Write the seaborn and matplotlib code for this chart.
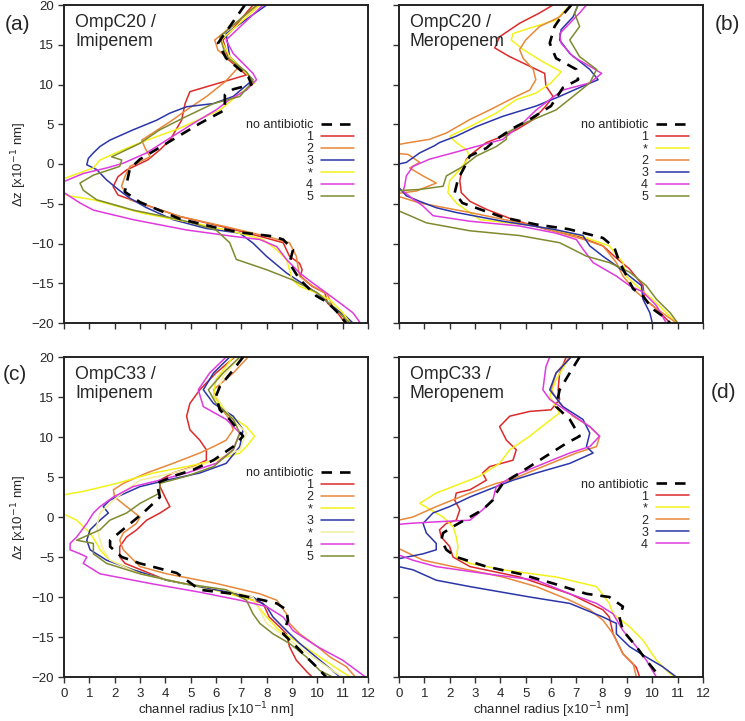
import numpy as np
import pandas as pd
import matplotlib
matplotlib.use("Agg")
import matplotlib.pyplot as plt
import seaborn as sns

# ---- profiles: (channel radius, dz), both in units of 0.1 nm ----
# panel (a) OmpC20 / Imipenem
A_NONE = [(7.14, 20), (6.08, 15.2), (6.4, 13.3), (7.27, 11), (7.4, 10), (6.68, 9.4), (6.35, 8.7), (6.35, 6.8),
          (5.36, 5.1), (3.0, 0.6), (2.6, -0.6), (2.4, -3.5), (3.0, -4.8), (4.57, -6.9), (6.0, -8.0), (6.94, -8.6),
          (8.25, -9.1), (8.65, -9.5), (9.04, -10.8), (8.9, -12.5), (9.3, -14.5), (9.96, -16.6), (10.4, -17.4),
          (10.75, -18.5), (11.14, -20)]
A_1 = [(7.46, 20), (6.28, 15.6), (6.5, 13.1), (7.2, 11.2), (4.97, 9.1), (4.78, 7.6), (4.64, 5.5), (4.18, 3.0),
       (3.79, 1.8), (3.3, 0.5), (2.47, -0.75), (2.13, -1.6), (1.94, -2.85), (2.13, -3.9), (3.0, -4.9), (4.57, -6.6),
       (6.54, -8.1), (7.73, -9.1), (8.65, -9.9), (8.9, -11.6), (9.3, -12.5), (9.4, -13.3), (9.33, -14.1),
       (9.8, -15.4), (10.3, -16.2), (10.4, -17.5), (10.75, -18.5), (11.0, -19.6), (11.1, -20)]
A_2 = [(7.66, 20), (5.95, 15.6), (6.08, 14.3), (6.74, 12.7), (6.87, 12.1), (6.36, 10.35), (5.63, 8.5),
       (4.84, 6.8), (4.18, 5.3), (3.79, 4.5), (3.07, 3.0), (3.2, 2.0), (3.4, 0.9), (2.6, -0.3), (2.4, -1.6),
       (2.27, -2.8), (2.6, -4.5), (4.57, -6.6), (6.4, -7.9), (8.0, -9.1), (8.9, -9.9), (9.17, -11.6),
       (9.3, -14.1), (9.83, -15.4), (10.4, -16.4), (10.6, -17.9), (11.1, -19.2), (11.4, -20)]
A_3 = [(8.0, 20), (6.4, 16.4), (6.54, 13.5), (7.46, 10.6), (6.68, 8.5), (5.9, 7.6), (4.84, 7.2), (4.18, 6.4),
       (3.65, 5.5), (2.73, 4.3), (1.81, 3.0), (1.42, 2.2), (1.16, 1.4), (0.96, 0.7), (0.9, -0.1), (1.29, -0.7),
       (1.68, -2.0), (2.14, -3.2), (2.6, -4.3), (3.26, -5.5), (4.3, -7.0), (5.6, -8.1), (6.94, -8.7),
       (7.46, -9.95), (7.99, -11.6), (8.78, -13.7), (9.4, -15.0), (9.96, -16.2), (10.6, -17.9), (11.14, -19.2),
       (11.4, -20)]
A_STAR = [(7.73, 20), (6.2, 15.6), (6.54, 13.5), (7.2, 11.4), (7.53, 10.2), (6.95, 8.9), (6.16, 6.8),
          (4.57, 4.5), (3.1, 2.8), (2.33, 1.8), (1.42, 0.5), (1.16, -0.5), (0.37, -1.4), (-0.3, -2.2),
          (-0.3, -3.5), (0.2, -4.0), (1.16, -4.5), (3.1, -6.2), (5.1, -7.4), (6.68, -8.5), (7.86, -9.5),
          (8.4, -10.8), (8.78, -12.0), (8.9, -13.3), (9.0, -14.5), (9.3, -15.4), (9.96, -16.2), (10.5, -17.1),
          (11.0, -18.7), (11.3, -20)]
A_4 = [(7.86, 20), (6.4, 15.6), (6.68, 13.9), (7.46, 11.4), (7.6, 10.6), (7.2, 9.3), (6.54, 8.1), (6.0, 6.8),
       (5.1, 5.1), (4.05, 3.0), (3.26, 1.4), (2.34, 0.1), (1.68, -0.5), (0.76, -1.2), (0.0, -2.2), (-0.3, -3.0),
       (0.0, -3.6), (0.63, -4.9), (1.16, -5.8), (2.73, -7.0), (4.84, -8.3), (6.68, -9.1), (7.73, -9.5),
       (8.4, -10.4), (8.78, -12.0), (9.3, -13.7), (9.83, -15.0), (10.35, -16.2), (10.9, -17.5), (11.4, -18.7),
       (11.7, -20)]
A_5 = [(7.6, 20), (6.15, 16.0), (6.4, 13.5), (7.2, 11.6), (7.46, 10.4), (6.94, 8.5), (5.9, 7.6), (4.84, 6.0),
       (3.78, 4.3), (3.0, 2.6), (1.88, 0.9), (2.28, 0.5), (2.2, -0.3), (1.16, -1.4), (0.63, -2.4), (0.76, -3.3),
       (1.29, -4.5), (2.73, -5.8), (4.58, -7.0), (6.0, -8.3), (6.54, -9.9), (6.8, -12.0), (8.0, -13.3),
       (9.04, -14.6), (10.0, -16.2), (10.6, -17.9), (11.14, -19.6), (11.3, -20)]

# panel (b) OmpC20 / Meropenem
B_NONE = [(6.8, 20), (6.4, 18.5), (6.14, 17.3), (5.95, 15.2), (6.2, 13.3), (7.0, 11.9), (7.07, 10.6),
          (6.47, 9.6), (6.0, 7.3), (5.16, 5.6), (4.5, 4.5), (3.84, 3.1), (3.45, 2.0), (2.79, 1.0), (2.6, -0.3),
          (2.33, -1.9), (2.2, -3.6), (2.5, -4.9), (3.2, -5.7), (4.1, -6.7), (5.4, -7.6), (6.7, -8.2),
          (8.05, -9.3), (8.5, -10.5), (8.64, -11.8), (8.84, -13.2), (9.24, -15.7), (9.63, -16.6), (10.0, -18.2),
          (10.4, -19.1), (10.7, -20)]
B_1 = [(6.08, 20), (5.55, 19), (4.76, 17.7), (3.97, 16.0), (3.78, 14.6), (4.37, 13.5), (5.16, 12.3),
       (5.75, 11.4), (5.8, 9.8), (6.08, 8.5), (5.8, 7.3), (5.3, 5.6), (4.63, 4.3), (4.1, 3.5), (3.45, 2.7),
       (2.92, 1.4), (2.66, 0.6), (2.46, -1.1), (2.4, -2.1), (2.46, -3.6), (2.8, -4.7), (3.45, -5.7), (4.5, -7.0),
       (5.8, -8.2), (7.0, -9.0), (8.05, -10.3), (8.64, -12.0), (9.1, -13.2), (9.63, -15.3), (9.7, -17.0),
       (10.16, -18.2), (10.7, -20)]
B_STAR = [(6.74, 20), (6.2, 18.1), (5.16, 17.1), (4.5, 16.4), (4.43, 15.6), (4.9, 14.4), (5.55, 13.1),
          (6.4, 11.6), (6.0, 10.2), (5.4, 8.9), (4.63, 8.1), (3.84, 6.4), (2.8, 4.7), (2.0, 3.5), (2.26, 2.7),
          (2.66, 1.8), (2.79, 1.0), (2.4, -0.7), (2.0, -2.1), (1.93, -3.6), (2.26, -4.9), (2.79, -6.1),
          (3.2, -7.0), (5.4, -7.8), (7.13, -9.0), (8.3, -10.3), (8.84, -12.4), (8.97, -14.1), (9.37, -15.3),
          (10.0, -17.0), (10.55, -18.7), (10.95, -20)]
B_2 = [(6.8, 20), (6.34, 18.5), (5.55, 17.3), (5.0, 15.6), (4.76, 14.4), (4.9, 13.3), (5.3, 11.9), (5.4, 10.6),
       (5.16, 9.3), (4.5, 8.3), (3.58, 6.8), (2.8, 5.6), (1.87, 3.9), (1.2, 3.1), (0.42, 2.7), (-0.3, 2.3),
       (-0.3, 1.4), (0.36, 1.2), (0.82, 0.2), (0.42, -0.5), (0.95, -1.5), (1.47, -2.4), (0.68, -3.4),
       (-0.3, -3.8), (0.82, -4.9), (2.8, -6.1), (5.4, -7.8), (7.3, -9.5), (8.05, -10.3), (8.58, -12.4),
       (8.84, -14.1), (9.37, -16.1), (10.0, -17.8), (10.95, -20)]
B_3 = [(7.07, 20), (6.87, 18.5), (6.4, 16.9), (6.34, 15.6), (6.74, 13.9), (7.53, 11.9), (7.86, 10.6),
       (7.26, 9.8), (6.34, 8.5), (5.42, 7.3), (4.1, 6.0), (3.05, 4.7), (2.26, 3.5), (1.6, 2.7), (1.4, 2.3),
       (0.82, 1.4), (0.29, 0.2), (-0.3, -0.2), (-0.3, -1.9), (0.29, -4.0), (0.82, -4.7), (1.47, -5.5),
       (2.26, -6.1), (4.1, -7.2), (6.08, -8.2), (7.26, -9.0), (7.53, -10.3), (8.05, -11.6), (8.58, -12.8),
       (9.1, -14.1), (9.57, -15.3), (9.63, -17.0), (9.9, -18.7), (10.0, -20)]
B_4 = [(7.4, 20), (7.13, 19), (6.74, 17.7), (6.34, 16.4), (6.4, 15.2), (6.87, 13.5), (7.53, 12.3), (8.0, 11.4),
       (7.53, 10.2), (6.47, 9.3), (5.95, 8.1), (5.42, 6.8), (4.9, 5.2), (4.1, 3.1), (3.05, 2.2), (2.13, 1.4),
       (1.2, 0.6), (0.55, -0.3), (0.29, -1.5), (0.22, -2.8), (0.16, -3.4), (0.55, -4.4), (0.95, -5.3),
       (1.34, -6.5), (2.8, -7.2), (4.76, -7.8), (6.2, -8.7), (7.0, -9.5), (7.26, -10.7), (7.66, -12.4),
       (8.58, -14.1), (9.1, -15.3), (9.63, -16.1), (10.16, -17.8), (10.55, -20)]
B_5 = [(7.07, 20), (6.93, 19), (7.13, 17.3), (6.74, 15.6), (7.13, 13.5), (7.8, 11.9), (7.53, 10.2),
       (6.87, 8.5), (6.2, 6.8), (5.0, 5.2), (4.24, 3.9), (4.24, 3.1), (3.84, 2.2), (3.05, 1.0), (2.53, -0.3),
       (1.87, -1.5), (1.74, -2.8), (0.82, -3.2), (-0.3, -3.4), (-0.3, -5.5), (0.29, -6.3), (1.08, -7.4),
       (2.8, -8.4), (4.76, -9.0), (6.34, -9.9), (7.4, -11.6), (8.3, -12.4), (9.1, -13.6), (9.76, -15.3),
       (10.16, -17.0), (10.7, -18.7), (11.0, -20)]

# panel (c) OmpC33 / Imipenem
C_NONE = [(7.07, 20), (6.68, 18.4), (6.15, 16.3), (6.0, 15.1), (6.15, 13.4), (6.54, 12.2), (6.87, 10.9),
          (7.07, 10.1), (6.68, 8.8), (5.9, 7.1), (5.1, 5.9), (4.3, 5.1), (3.65, 4.2), (3.79, 2.5), (3.12, 0.5),
          (2.47, -1.2), (1.82, -2.9), (1.82, -3.7), (2.28, -5.0), (3.0, -5.8), (4.45, -7.0), (5.36, -9.1),
          (6.68, -9.6), (7.86, -10.4), (8.4, -10.8), (8.78, -11.6), (8.84, -12.9), (8.65, -14.6), (9.17, -16.2),
          (9.57, -17.5), (9.96, -18.7), (10.35, -20)]
C_1 = [(6.74, 20), (6.0, 18.0), (5.36, 15.9), (4.97, 14.2), (4.84, 12.6), (4.97, 10.9), (5.36, 9.6),
       (5.62, 8.4), (5.62, 7.1), (5.1, 6.3), (4.3, 5.5), (3.78, 4.6), (3.79, 3.8), (4.05, 2.1), (4.18, 1.3),
       (3.79, 0.5), (3.26, -0.4), (2.87, -1.6), (2.47, -2.5), (2.2, -3.7), (2.2, -5.0), (2.41, -5.8),
       (4.05, -7.9), (5.36, -8.7), (6.68, -9.6), (7.86, -10.8), (8.1, -12.5), (8.5, -13.7), (8.78, -14.6),
       (8.9, -16.2), (9.17, -17.9), (9.6, -19.4), (9.8, -20)]
C_2 = [(7.27, 20), (6.68, 18.0), (5.9, 15.9), (6.15, 13.8), (6.54, 12.2), (6.68, 10.9), (6.4, 9.6),
       (5.9, 8.8), (5.36, 8.0), (4.3, 6.7), (3.26, 5.5), (2.34, 4.2), (1.95, 3.4), (2.0, 2.5), (2.47, 1.3),
       (3.0, 0.0), (2.86, -0.8), (2.34, -2.0), (2.2, -2.9), (2.34, -4.1), (3.0, -6.2), (4.05, -7.1),
       (6.0, -8.3), (7.73, -9.6), (8.4, -10.4), (8.78, -12.1), (8.9, -13.3), (9.3, -14.6), (10.0, -16.2),
       (10.5, -17.5), (11.14, -18.7), (11.5, -20)]
C_STAR1 = [(6.68, 20), (6.0, 17.2), (5.9, 15.1), (6.4, 13.0), (7.2, 11.3), (7.53, 10.1), (7.2, 8.8),
           (6.94, 8.0), (6.0, 7.1), (4.84, 6.3), (3.52, 5.5), (2.08, 4.2), (0.76, 3.2), (-0.3, 2.6)]
C_STAR1_LOW = [(-0.3, 0.8), (0.5, -0.4), (1.03, -2.0), (1.29, -3.3), (1.42, -4.1), (1.8, -5.4), (2.73, -6.6),
               (4.05, -7.9), (5.9, -9.1), (7.46, -10.4), (8.0, -12.5), (8.5, -14.2), (9.3, -15.8),
               (10.1, -17.5), (10.9, -19.2), (11.3, -20)]
C_3 = [(6.54, 20), (5.9, 18.0), (5.5, 15.9), (5.9, 14.2), (6.68, 12.6), (7.07, 10.9), (6.94, 8.8), (6.4, 6.7),
       (5.36, 5.5), (4.05, 4.6), (3.0, 3.8), (2.08, 2.5), (1.81, 2.1), (1.55, 1.3), (1.75, 0.5), (1.42, -0.4),
       (1.03, -1.6), (0.9, -2.9), (1.03, -4.1), (1.68, -5.4), (2.73, -6.6), (4.05, -7.9), (6.0, -9.1),
       (7.46, -10.0), (8.0, -11.2), (8.25, -12.5), (8.78, -14.2), (9.3, -15.8), (10.1, -17.9), (10.6, -19.2),
       (10.9, -20)]
C_STAR2 = [(6.94, 20), (6.28, 17.6), (6.0, 15.1), (6.54, 12.6), (7.2, 10.5), (6.94, 8.4), (5.62, 6.7),
           (4.3, 5.5), (3.0, 4.6), (2.47, 3.4), (1.95, 2.1), (1.42, 0.5), (1.29, -1.2), (1.42, -2.9),
           (1.55, -4.1), (1.81, -5.4), (3.0, -7.1), (4.7, -8.3), (6.4, -9.1), (7.46, -10.0), (7.73, -11.7),
           (8.0, -13.3), (8.9, -15.4), (9.83, -17.5), (10.6, -19.2), (11.0, -20)]
C_4 = [(6.4, 20), (5.75, 18.0), (5.3, 15.9), (5.5, 13.8), (6.4, 12.2), (6.94, 10.5), (6.68, 8.4), (6.0, 6.7),
       (4.84, 5.5), (3.78, 4.6), (2.73, 3.8), (1.95, 2.5), (1.42, 1.3), (1.16, 0.5), (0.9, -0.8), (0.5, -2.5),
       (0.24, -3.3), (0.24, -4.1), (0.63, -4.6), (0.9, -5.0), (0.76, -5.8), (1.42, -7.1), (3.39, -8.3),
       (5.36, -9.4), (6.94, -10.4), (8.0, -11.2), (8.65, -12.5), (9.04, -14.2), (10.0, -16.2), (11.0, -17.9),
       (11.9, -20)]
C_5 = [(6.94, 20), (6.28, 18.0), (5.7, 15.9), (6.0, 14.2), (6.68, 12.2), (6.94, 10.5), (6.68, 8.4), (5.9, 6.3),
       (4.84, 5.1), (3.78, 4.2), (3.78, 3.0), (3.0, 1.7), (2.47, 0.5), (1.81, -0.4), (1.42, -1.6), (0.5, -2.9),
       (1.16, -3.3), (1.16, -4.6), (1.68, -5.8), (3.0, -7.1), (4.7, -8.3), (6.4, -9.1), (7.2, -10.4),
       (7.46, -12.1), (7.73, -13.3), (8.25, -14.6), (8.9, -15.8), (9.57, -17.5), (10.1, -19.2), (10.6, -20)]

# panel (d) OmpC33 / Meropenem
D_NONE = [(7.13, 20), (6.74, 18.0), (6.34, 15.9), (6.2, 13.8), (6.74, 12.2), (7.13, 10.1), (6.6, 9.2),
          (5.8, 7.6), (4.76, 5.5), (4.1, 4.2), (3.84, 3.0), (3.7, 2.1), (3.3, 0.9), (2.8, 0.0), (2.13, -1.2),
          (1.74, -2.0), (1.67, -2.9), (1.87, -4.1), (2.26, -5.0), (3.45, -6.2), (4.76, -7.1), (6.08, -8.3),
          (7.4, -9.6), (8.3, -10.0), (8.84, -11.2), (8.7, -12.5), (8.84, -14.2), (9.37, -16.2), (9.76, -17.9),
          (10.3, -20)]
D_1 = [(6.6, 20), (6.34, 18.0), (6.28, 15.9), (6.34, 14.7), (6.0, 13.4), (5.16, 13.2), (4.37, 12.6),
       (3.97, 11.3), (4.24, 9.6), (4.63, 8.4), (4.5, 7.1), (3.58, 6.3), (3.3, 5.5), (3.45, 4.6), (2.8, 3.4),
       (2.26, 3.0), (2.2, 2.1), (2.4, 0.9), (2.26, -0.4), (1.87, -0.8), (1.6, -1.6), (1.67, -2.5), (2.0, -3.7),
       (2.13, -5.0), (2.8, -6.2), (4.76, -7.5), (6.74, -9.6), (8.05, -11.6), (8.3, -12.5), (8.45, -14.6),
       (8.84, -17.1), (9.37, -18.8), (9.5, -20)]
D_STAR = [(6.74, 20), (6.2, 17.2), (5.95, 15.1), (6.34, 13.0), (5.8, 11.7), (5.16, 10.1), (4.37, 8.4),
          (3.97, 6.7), (3.18, 5.1), (2.13, 3.8), (1.47, 3.0), (0.82, 1.7), (1.74, 0.0), (2.13, -1.2),
          (2.26, -2.5), (2.33, -3.7), (2.26, -5.0), (2.8, -5.8), (4.1, -6.6), (6.2, -7.5), (7.8, -8.7),
          (8.3, -10.8), (8.45, -12.1), (9.1, -13.7), (9.63, -15.4), (10.16, -17.9), (10.7, -19.6), (10.9, -20)]
D_2 = [(6.74, 20), (6.2, 18.0), (6.0, 15.9), (6.34, 14.2), (6.87, 12.6), (7.53, 11.3), (7.92, 10.1),
       (7.8, 8.8), (7.0, 8.0), (5.68, 6.3), (4.37, 4.6), (3.84, 4.2), (2.8, 3.0), (1.47, 1.3), (0.55, 0.0),
       (-0.3, -0.6), (-0.3, -3.5), (0.42, -4.6), (0.95, -5.4), (2.13, -6.2), (4.1, -7.5), (5.42, -8.7),
       (6.74, -10.4), (7.53, -11.6), (8.05, -12.9), (8.45, -14.6), (8.84, -17.1), (9.24, -18.3), (9.37, -20)]
D_3 = [(6.8, 20), (6.2, 18.0), (5.95, 15.9), (6.47, 13.8), (7.26, 12.2), (7.53, 10.5), (7.4, 8.8), (7.66, 8.0),
       (6.74, 6.7), (5.42, 5.5), (4.5, 4.6), (3.84, 3.8), (2.8, 2.5), (2.0, 1.3), (1.34, 0.5), (0.95, -0.8),
       (1.08, -2.0), (1.47, -3.3), (1.47, -4.1), (0.95, -4.6), (-0.3, -5.4), (-0.3, -6.0), (0.55, -6.6),
       (1.47, -7.9), (2.8, -8.7), (5.16, -10.0), (6.74, -10.8), (8.05, -12.5), (8.58, -13.3), (8.58, -14.6),
       (9.1, -16.2), (9.76, -17.5), (10.4, -18.7), (10.95, -20)]
D_4 = [(5.95, 20), (5.8, 18.8), (5.75, 17.6), (5.68, 15.9), (5.95, 14.7), (6.74, 13.0), (7.53, 11.3),
       (7.92, 10.1), (7.53, 8.8), (6.74, 8.0), (5.42, 6.3), (4.5, 5.1), (3.84, 3.8), (3.7, 2.1), (3.3, 0.9),
       (2.8, -0.4), (1.47, -0.6), (0.42, -0.8), (-0.3, -1.0), (-0.3, -4.4), (0.55, -5.4), (1.47, -6.2),
       (3.45, -7.1), (5.42, -7.9), (6.74, -9.6), (7.8, -10.8), (8.45, -12.1), (8.84, -14.2), (9.37, -16.2),
       (9.76, -17.9), (10.16, -20)]

RED, ORANGE, BLUE = "#dc2a2a", "#e8883a", "#2b35a8"
YELLOW, PALEYELLOW, MAGENTA, OLIVE = "#f2f21a", "#f3ef9a", "#df3ade", "#7f8a2e"

PANELS = [
    ("(a)", "OmpC20 /\nImipenem", A_NONE,
     [("1", RED, [A_1]), ("2", ORANGE, [A_2]), ("3", BLUE, [A_3]), ("*", YELLOW, [A_STAR]),
      ("4", MAGENTA, [A_4]), ("5", OLIVE, [A_5])], 0.64),
    ("(b)", "OmpC20 /\nMeropenem", B_NONE,
     [("1", RED, [B_1]), ("*", YELLOW, [B_STAR]), ("2", ORANGE, [B_2]), ("3", BLUE, [B_3]),
      ("4", MAGENTA, [B_4]), ("5", OLIVE, [B_5])], 0.64),
    ("(c)", "OmpC33 /\nImipenem", C_NONE,
     [("1", RED, [C_1]), ("2", ORANGE, [C_2]), ("*", YELLOW, [C_STAR1, C_STAR1_LOW]), ("3", BLUE, [C_3]),
      ("*", PALEYELLOW, [C_STAR2]), ("4", MAGENTA, [C_4]), ("5", OLIVE, [C_5])], 0.655),
    ("(d)", "OmpC33 /\nMeropenem", D_NONE,
     [("1", RED, [D_1]), ("*", YELLOW, [D_STAR]), ("2", ORANGE, [D_2]), ("3", BLUE, [D_3]),
      ("4", MAGENTA, [D_4])], 0.62),
]

sns.set_style("ticks")
plt.rcParams["font.family"] = ["Liberation Sans", "DejaVu Sans"]

fig = plt.figure(figsize=(7.45, 7.21), dpi=100)
W, H = 745, 721
boxes = [(64, 5, 304, 318), (399, 5, 304, 318), (64, 357, 304, 320), (399, 357, 304, 320)]
tag_pos = [(17, 24), (727, 25), (15, 375), (723, 393)]


def draw_profile(ax, pts, color, lw=1.1, dashes=None, zorder=2):
    df = pd.DataFrame(pts, columns=["r", "z"])
    sns.lineplot(x="r", y="z", data=df, sort=False, estimator=None, color=color,
                 lw=lw, ax=ax, zorder=zorder, legend=False)
    line = ax.lines[-1]
    if dashes is not None:
        line.set_dashes(dashes)
    return line


for i, (tag, title, none_pts, series, leg_y) in enumerate(PANELS):
    l, t, w, h = boxes[i]
    ax = fig.add_axes([l / W, 1 - (t + h) / H, w / W, h / H])
    handles, labels = [], []
    for lab, col, parts in series:
        for p in parts:
            ln = draw_profile(ax, p, col)
        handles.append(ln)
        labels.append(lab)
    ln0 = draw_profile(ax, none_pts, "black", lw=1.9, dashes=(4, 3), zorder=3)
    handles.insert(0, ln0)
    labels.insert(0, "no antibiotic")

    ax.set_xlim(0, 12)
    ax.set_ylim(-20, 20)
    ax.set_xticks(range(0, 13))
    ax.set_yticks(range(-20, 21, 5))
    ax.tick_params(direction="out", length=4, width=1, labelsize=9.5, color="#333333")
    ax.tick_params(axis="x", pad=4)
    ax.tick_params(axis="y", pad=3)
    for s in ax.spines.values():
        s.set_visible(True)
        s.set_linewidth(1.4)
        s.set_color("#222222")
    ax.set_xlabel("")
    ax.set_ylabel("")
    if i % 2 == 1:
        ax.set_yticklabels([])
    else:
        ax.set_ylabel("Δz [x10$^{-1}$ nm]", fontsize=9.5, labelpad=2)
    if i < 2:
        ax.set_xticklabels([])
    else:
        ax.set_xlabel("channel radius [x10$^{-1}$ nm]", fontsize=9.5, labelpad=0)

    ax.text(0.036, 0.972, title, transform=ax.transAxes, ha="left", va="top",
            fontsize=12.8, linespacing=1.15)
    fig.text(tag_pos[i][0] / W, 1 - tag_pos[i][1] / H, tag, ha="center", va="center", fontsize=15)

    ax.legend(handles, labels, loc="upper right", bbox_to_anchor=(0.955, leg_y),
              frameon=False, markerfirst=False, fontsize=9, labelspacing=0.0,
              handlelength=2.7, handletextpad=0.6, borderpad=0, borderaxespad=0)

fig.savefig("out.png", dpi=100)
